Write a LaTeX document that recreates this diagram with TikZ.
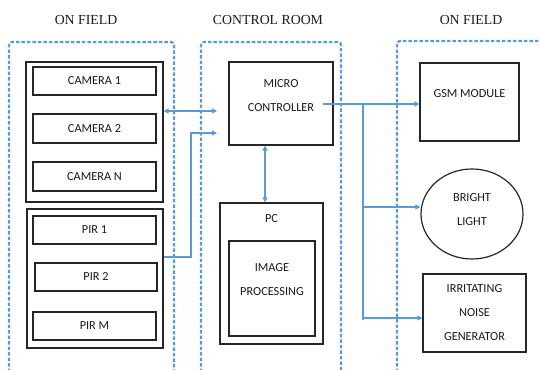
\documentclass[tikz,border=0pt]{standalone}
\usepackage{fontspec}
\setmainfont{Liberation Serif}
\newfontfamily\boxfont{Carlito}
\usepackage{xcolor}
\usetikzlibrary{positioning,calc,shapes,arrows.meta}
\definecolor{linkblue}{HTML}{5B9BD5}

\begin{document}
\begin{tikzpicture}[x=1pt, y=-1pt,
		>={Triangle[length=5pt,width=5pt]},
		box/.style={draw=black!85, line width=1.2pt, text=black!90, font=\boxfont\fontsize{12.3}{24}\selectfont, align=center, inner sep=0pt},
		txt/.style={box, draw=none},
		zone/.style={draw=linkblue, line width=2.2pt, dash pattern=on 3.5pt off 2pt, rounded corners=3pt},
		link/.style={draw=linkblue, line width=1.1pt},
		title/.style={font=\fontsize{13.8}{16}\selectfont, text=black!90}]
				\useasboundingbox (0,0) rectangle (540,369);
				% zones
				\node [title] (t1) at (86,20) {ON FIELD};
				\node [title] (t2) at (268,20) {CONTROL ROOM};
				\node [title] (t3) at (471,20) {ON FIELD};
				\draw [zone] (9,372) -- (9,42) -- (174,42) -- (174,372);
				\draw [zone] (201,372) -- (201,42) -- (341,42) -- (341,372);
				\draw [zone] (397,372) -- (397,41) -- (545,41);
				% on field, sensors
				\node [box, minimum width=137, minimum height=140] (cams) at (94.5,132) {};
				\node [box, minimum width=123, minimum height=28] (cam1) at (94.5,81) {CAMERA 1};
				\node [box, minimum width=123, minimum height=29] (cam2) at (94.5,128.5) {CAMERA 2};
				\node [box, minimum width=123, minimum height=29] (camn) at (94.5,176.5) {CAMERA N};
				\node [box, minimum width=136, minimum height=139] (pirs) at (95,278.5) {};
				\node [box, minimum width=123, minimum height=28] (pir1) at (94.5,230) {PIR 1};
				\node [box, minimum width=122, minimum height=28] (pir2) at (96,277) {PIR 2};
				\node [box, minimum width=123, minimum height=28] (pirm) at (94.5,326) {PIR M};
				% control room
				\node [box, minimum width=104, minimum height=83,
					label={[txt, yshift=7.5pt]center:MICRO\\CONTROLLER}] (mc) at (281,103.5) {};
				\node [box, minimum width=103, minimum height=141,
					label={[txt, yshift=54.5pt]center:PC}] (pc) at (271.5,273.5) {};
				\node [box, minimum width=86, minimum height=95,
					label={[txt, yshift=9pt]center:IMAGE\\PROCESSING}] (ip) at (272,288.5) {};
				% on field, outputs
				\node [box, minimum width=99, minimum height=78,
					label={[txt, yshift=8pt]center:GSM MODULE}] (gsm) at (469.5,102) {};
				\node [box, ellipse, minimum width=102, minimum height=90,
					label={[txt, yshift=4pt]center:BRIGHT\\LIGHT}] (light) at (472,214) {};
				\node [box, minimum width=103, minimum height=78] (noise) at (474.5,313) {IRRITATING\\NOISE\\GENERATOR};
				% links
				\coordinate (in1) at (217,111);
				\coordinate (in2) at (217,133);
				\coordinate (tap) at (191,257);
				\coordinate (bus) at (265,0);
				\coordinate (out) at (323,104);
				\coordinate (split) at (363,104);
				\draw [link, <->] (cams.east |- in1) -- (in1);
				\draw [link, ->] (pirs.east |- tap) -- (tap) |- (in2);
				\draw [link, <->] (mc.south -| bus) -- (pc.north -| bus);
				\draw [link, ->] (out) -- (out -| gsm.west);
				\draw [link] (split) -- ($(split)+(0,216)$);
				\draw [link, ->] ($(split)+(0,103)$) -- (light.west |- 0,207);
				\draw [link, ->] ($(split)+(0,214)$) -- (noise.west |- 0,318);
			\end{tikzpicture}
\end{document}
